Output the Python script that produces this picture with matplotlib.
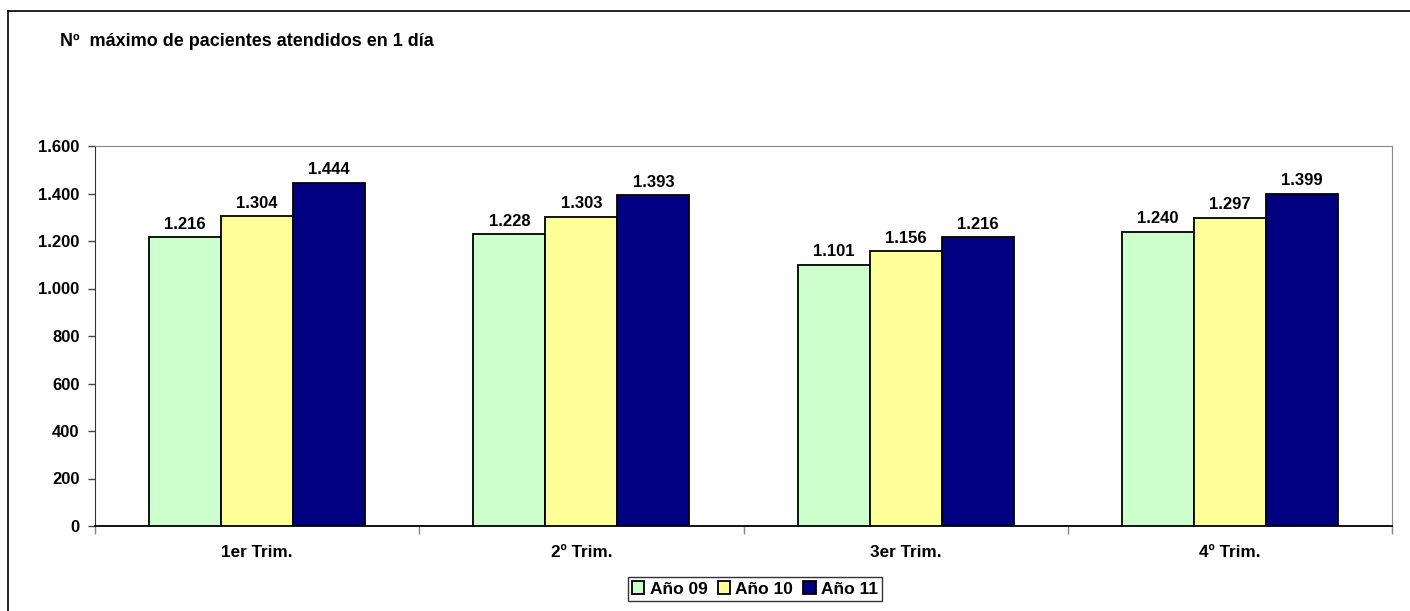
import numpy as np
import matplotlib.pyplot as plt
from matplotlib.lines import Line2D

plt.rcParams['font.family'] = ['Liberation Sans', 'DejaVu Sans']
plt.rcParams['font.weight'] = 'bold'

categories = ["1er Trim.", "2º Trim.", "3er Trim.", "4º Trim."]
series_names = ["Año 09", "Año 10", "Año 11"]
ano09 = [1216, 1228, 1101, 1240]
ano10 = [1304, 1303, 1156, 1297]
ano11 = [1444, 1393, 1216, 1399]
colors = ["#CCFFCC", "#FFFF99", "#000080"]


def fmt(v):  # spanish thousands separator
    return f"{v:,}".replace(",", ".")


fig = plt.figure(figsize=(14.1, 6.11), dpi=100)
ax = fig.add_axes([95 / 1410, 1 - 526 / 611, (1392 - 95) / 1410, (526 - 146) / 611])

x = np.arange(len(categories))
width = 0.222
for i, (vals, name) in enumerate(zip([ano09, ano10, ano11], series_names)):
    bars = ax.bar(x + (i - 1) * width, vals, width, color=colors[i], edgecolor="black",
                  linewidth=1.3, label=name, zorder=3)
    for b, v in zip(bars, vals):
        ax.annotate(fmt(v), (b.get_x() + b.get_width() / 2, v), xytext=(0, 4),
                    textcoords="offset points", ha="center", va="bottom",
                    fontsize=12, fontweight="bold")

ax.set_xlim(-0.5, len(categories) - 0.5)
ax.set_ylim(0, 1600)
ax.set_yticks(np.arange(0, 1601, 200))
ax.set_yticklabels([fmt(v) for v in range(0, 1601, 200)], fontsize=12, fontweight="bold")
ax.tick_params(axis="y", length=5, width=1, color="#444444", pad=6)

ax.set_xticks(np.arange(-0.5, len(categories)), minor=False)
ax.set_xticklabels([])
ax.tick_params(axis="x", which="major", length=6, width=1, color="#888888")
ax.set_xticks(x, minor=True)
ax.set_xticklabels(categories, minor=True, fontsize=12.3, fontweight="bold")
ax.tick_params(axis="x", which="minor", length=0, pad=14)

ax.spines["left"].set_color("#333333")
ax.spines["bottom"].set_color("black")
ax.spines["bottom"].set_linewidth(1.3)
ax.spines["top"].set_color("#888888")
ax.spines["right"].set_color("#888888")

fig.text(60 / 1410, 1 - 42 / 611, "Nº  máximo de pacientes atendidos en 1 día",
         fontsize=13, fontweight="bold", va="center", ha="left")

leg = fig.legend(loc="center", bbox_to_anchor=(755 / 1410, 1 - 589 / 611), ncol=3,
                 frameon=True, fancybox=False, edgecolor="black",
                 handlelength=0.7, handleheight=0.7, handletextpad=0.3,
                 columnspacing=0.6, borderpad=0.25, prop={"weight": "bold", "size": 12.5})
leg.get_frame().set_linewidth(1)

# outer chart border (only top and left visible)
fig.add_artist(Line2D([8 / 1410, 8 / 1410], [0, 1 - 11 / 611], transform=fig.transFigure,
                      color="black", linewidth=1.2))
fig.add_artist(Line2D([8 / 1410, 1], [1 - 11 / 611, 1 - 11 / 611], transform=fig.transFigure,
                      color="black", linewidth=1.2))

fig.savefig("out.png", dpi=100)
